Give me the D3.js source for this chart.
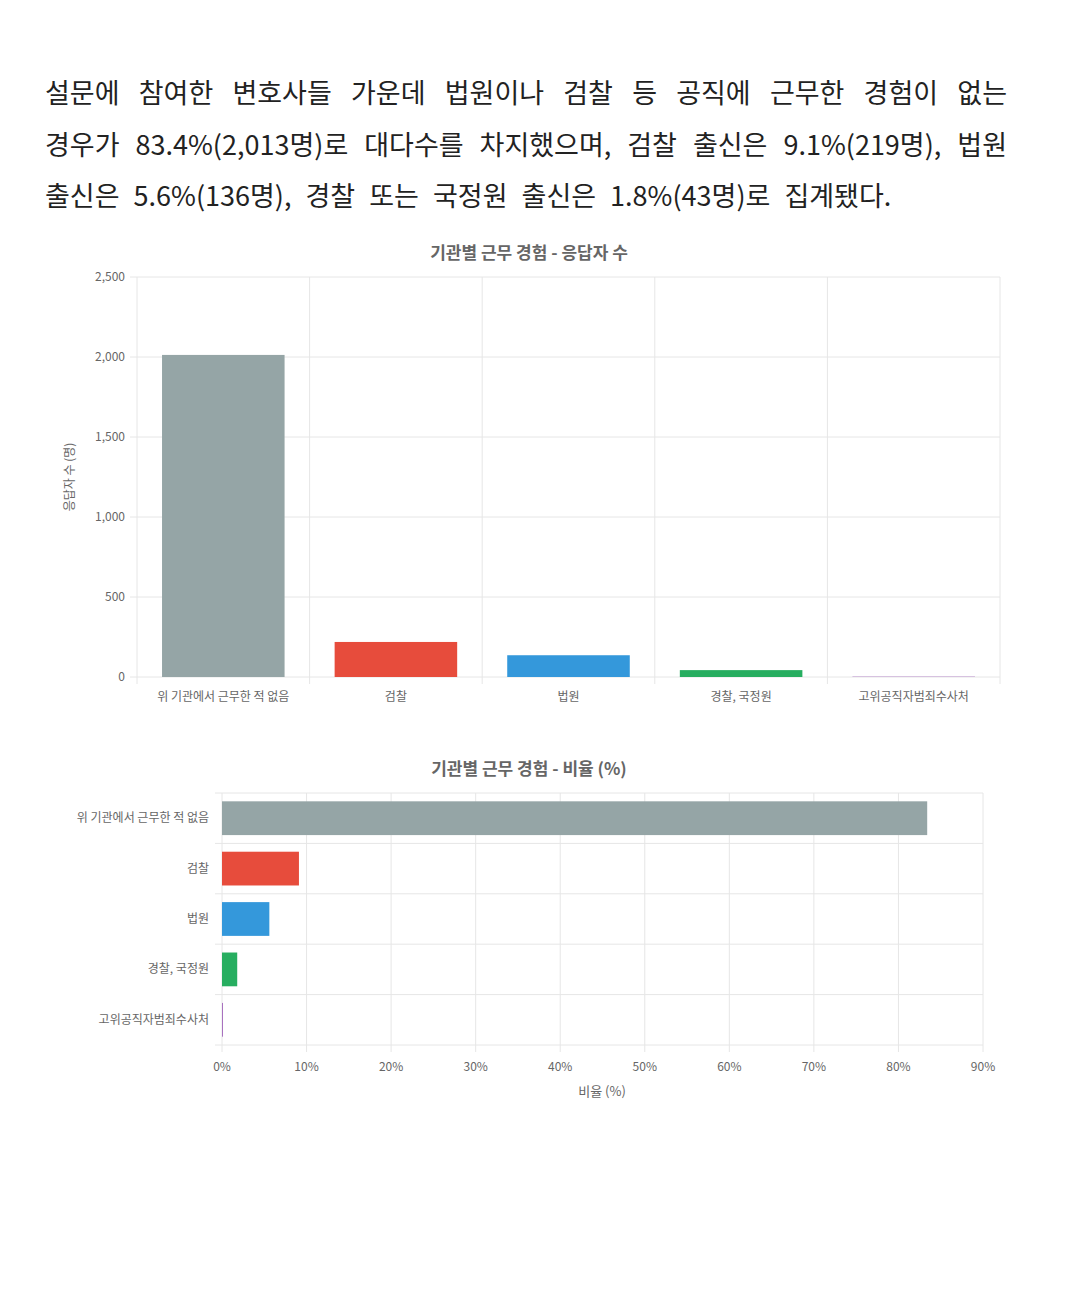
<!DOCTYPE html>
<html><head><meta charset="utf-8">
<script src="https://cdn.jsdelivr.net/npm/d3@7/dist/d3.min.js"></script>
<style>
body{margin:0;background:#fff;font-family:"Noto Sans CJK KR","Noto Sans",sans-serif;}
#para{position:absolute;left:45px;top:66px;width:962px;font-size:27px;color:#222;line-height:51.5px;}
#para div.j{text-align:justify;text-align-last:justify;}
#para div.l{word-spacing:8px;}
svg{position:absolute;left:0;top:0;}
</style></head><body>
<div id="para">
<div class="j">설문에 참여한 변호사들 가운데 법원이나 검찰 등 공직에 근무한 경험이 없는</div>
<div class="j">경우가 83.4%(2,013명)로 대다수를 차지했으며, 검찰 출신은 9.1%(219명), 법원</div>
<div class="l">출신은 5.6%(136명), 경찰 또는 국정원 출신은 1.8%(43명)로 집계됐다.</div>
</div>
<svg id="c" width="1080" height="1303"></svg>
<script>
const categories=["위 기관에서 근무한 적 없음","검찰","법원","경찰, 국정원","고위공직자범죄수사처"];
const counts=[2013,219,136,43,2];
const percents=[83.4,9.1,5.6,1.8,0.1];
const colors=["#95a5a6","#e74c3c","#3498db","#27ae60","#9b59b6"];
const countTicks=[0,500,1000,1500,2000,2500];
const pctTicks=[0,10,20,30,40,50,60,70,80,90];
const svg=d3.select("#c");
const F='"Noto Sans CJK KR",sans-serif';
const grid="#e6e6e6", tc="#666";
// chart 1
const x1=d3.scaleBand().domain(categories).range([137,1000]).paddingInner(0.29).paddingOuter(0.145);
const y1=d3.scaleLinear().domain([0,2500]).range([677,277]);
const g1=svg.append("g");
g1.append("text").attr("x",529).attr("y",259).attr("text-anchor","middle").attr("font-family",F).attr("font-weight","bold").attr("font-size",17).attr("fill","#666").text("기관별 근무 경험 - 응답자 수");
countTicks.forEach(t=>{g1.append("line").attr("x1",130).attr("x2",1000).attr("y1",y1(t)).attr("y2",y1(t)).attr("stroke",grid);
 g1.append("text").attr("x",125).attr("y",y1(t)+4).attr("text-anchor","end").attr("font-family",F).attr("font-size",12).attr("fill",tc).text(d3.format(",")(t));});
const step=863/5;
for(let i=0;i<=5;i++){const xx=137+i*step;g1.append("line").attr("x1",xx).attr("x2",xx).attr("y1",277).attr("y2",684).attr("stroke",grid);}
g1.selectAll("rect").data(categories).join("rect").attr("x",d=>x1(d)).attr("width",x1.bandwidth()).attr("y",(d,i)=>y1(counts[i])).attr("height",(d,i)=>677-y1(counts[i])).attr("fill",(d,i)=>colors[i]);
categories.forEach((c,i)=>g1.append("text").attr("x",x1(c)+x1.bandwidth()/2).attr("y",701).attr("text-anchor","middle").attr("font-family",F).attr("font-size",12).attr("fill",tc).text(c));
g1.append("text").attr("transform","translate(74,477) rotate(-90)").attr("text-anchor","middle").attr("font-family",F).attr("font-size",12).attr("fill",tc).text("응답자 수 (명)");
// chart 2
const x2=d3.scaleLinear().domain([0,90]).range([222,983]);
const y2=d3.scaleBand().domain(categories).range([793,1045]).paddingInner(0.33).paddingOuter(0.165);
const g2=svg.append("g");
g2.append("text").attr("x",529).attr("y",775).attr("text-anchor","middle").attr("font-family",F).attr("font-weight","bold").attr("font-size",17).attr("fill","#666").text("기관별 근무 경험 - 비율 (%)");
pctTicks.forEach(t=>{g2.append("line").attr("x1",x2(t)).attr("x2",x2(t)).attr("y1",793).attr("y2",1052).attr("stroke",grid);
 g2.append("text").attr("x",x2(t)).attr("y",1071).attr("text-anchor","middle").attr("font-family",F).attr("font-size",12).attr("fill",tc).text(t+"%");});
for(let i=0;i<=5;i++){const yy=793+i*252/5;g2.append("line").attr("x1",215).attr("x2",983).attr("y1",yy).attr("y2",yy).attr("stroke",grid);}
g2.selectAll("rect").data(categories).join("rect").attr("x",x2(0)).attr("y",d=>y2(d)).attr("height",y2.bandwidth()).attr("width",(d,i)=>x2(percents[i])-x2(0)).attr("fill",(d,i)=>colors[i]);
categories.forEach((c,i)=>g2.append("text").attr("x",209).attr("y",y2(c)+y2.bandwidth()/2+4).attr("text-anchor","end").attr("font-family",F).attr("font-size",12).attr("fill",tc).text(c));
g2.append("text").attr("x",602).attr("y",1096).attr("text-anchor","middle").attr("font-family",F).attr("font-size",13).attr("fill",tc).text("비율 (%)");
</script></body></html>
